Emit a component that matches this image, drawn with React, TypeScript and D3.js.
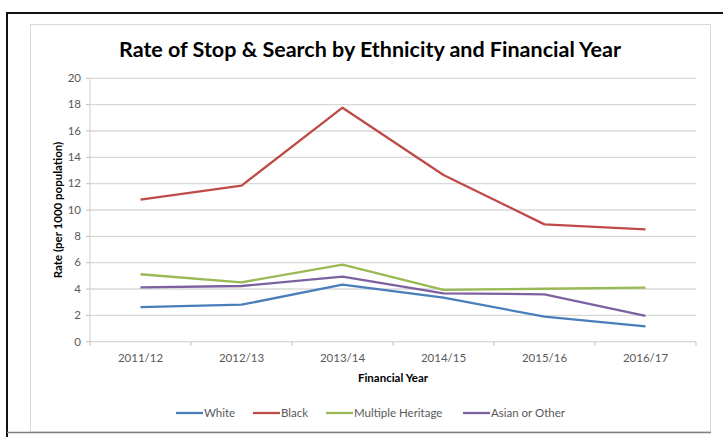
import React from "react";
import * as d3 from "d3";

const categories = ["2011/12", "2012/13", "2013/14", "2014/15", "2015/16", "2016/17"];
const seriesNames = ["White", "Black", "Multiple Heritage", "Asian or Other"];
const white = [2.63, 2.81, 4.33, 3.34, 1.9, 1.17];
const black = [10.78, 11.85, 17.77, 12.66, 8.91, 8.53];
const multipleHeritage = [5.12, 4.51, 5.85, 3.93, 4.02, 4.1];
const asianOrOther = [4.13, 4.23, 4.94, 3.67, 3.6, 1.97];
const yTicks = [0, 2, 4, 6, 8, 10, 12, 14, 16, 18, 20];
const colors = ["#4A7EBB", "#BE4B48", "#98B954", "#7D60A0"];

const W = 723;
const H = 437;
const plot = { left: 90, right: 696, top: 78.3, bottom: 341.7 };
const FONT = "Lato, 'Open Sans', sans-serif";

export default function App() {
  const x = d3.scaleBand<string>().domain(categories).range([plot.left, plot.right]).padding(0);
  const y = d3.scaleLinear().domain([0, 20]).range([plot.bottom, plot.top]);
  const data = [white, black, multipleHeritage, asianOrOther];
  const line = d3
    .line<number>()
    .x((_, i) => (x(categories[i]) as number) + x.bandwidth() / 2)
    .y((d) => y(d));

  const legendItems = [
    { lx: 176, tx: 204 },
    { lx: 253, tx: 281 },
    { lx: 326, tx: 354 },
    { lx: 463, tx: 491 },
  ];

  const boundaries = [...categories.map((c) => x(c) as number), plot.right];

  return (
    <svg
      width={W}
      height={H}
      style={{ position: "absolute", left: 0, top: 0, background: "#fff" }}
      fontFamily={FONT}
    >
      <rect x={0} y={0} width={W} height={H} fill="#fff" />
      {/* outer black frame */}
      <line x1={6} x2={723} y1={13} y2={13} stroke="#111" strokeWidth={2} />
      <line x1={7} x2={7} y1={12} y2={437} stroke="#111" strokeWidth={2} />
      {/* inner chart frame */}
      <rect x={30.5} y={24.5} width={680} height={407.5} fill="#fff" stroke="#d9d9d9" strokeWidth={1} />
      <line x1={7} x2={711} y1={432.5} y2={432.5} stroke="#7f7f7f" strokeWidth={1.5} />

      <text
        x={370}
        y={57}
        textAnchor="middle"
        fontSize={21.5}
        fontWeight="bold"
        fill="#000"
      >
        Rate of Stop &amp; Search by Ethnicity and Financial Year
      </text>

      {/* gridlines */}
      {yTicks.map((t) => (
        <line
          key={"g" + t}
          x1={plot.left}
          x2={plot.right}
          y1={y(t)}
          y2={y(t)}
          stroke="#d9d9d9"
          strokeWidth={1.3}
        />
      ))}
      {/* y axis */}
      <line x1={plot.left} x2={plot.left} y1={plot.top} y2={plot.bottom} stroke="#d9d9d9" strokeWidth={1.3} />
      {yTicks.map((t) => (
        <g key={"yt" + t}>
          <line x1={plot.left - 4} x2={plot.left} y1={y(t)} y2={y(t)} stroke="#bfbfbf" strokeWidth={1} />
          <text x={81} y={y(t) + 3.8} textAnchor="end" fontSize={11.5} fill="#595959">
            {t}
          </text>
        </g>
      ))}
      {/* x axis */}
      <line x1={plot.left} x2={plot.right} y1={plot.bottom} y2={plot.bottom} stroke="#d9d9d9" strokeWidth={1.3} />
      {boundaries.map((b, i) => (
        <line key={"xt" + i} x1={b} x2={b} y1={plot.bottom} y2={plot.bottom + 4} stroke="#bfbfbf" strokeWidth={1} />
      ))}
      {categories.map((c) => (
        <text
          key={"xl" + c}
          x={(x(c) as number) + x.bandwidth() / 2}
          y={362}
          textAnchor="middle"
          fontSize={11.5}
          fill="#595959"
        >
          {c}
        </text>
      ))}
      <text x={(plot.left + plot.right) / 2} y={382} textAnchor="middle" fontSize={11.5} fontWeight="bold" fill="#000">
        Financial Year
      </text>
      <text
        transform={`translate(61.5, ${(plot.top + plot.bottom) / 2}) rotate(-90)`}
        textAnchor="middle"
        fontSize={11.5}
        fontWeight="bold"
        fill="#000"
      >
        Rate (per 1000 population)
      </text>

      {/* series */}
      {data.map((d, i) => (
        <path
          key={"s" + i}
          d={line(d) as string}
          fill="none"
          stroke={colors[i]}
          strokeWidth={2.3}
          strokeLinejoin="round"
        />
      ))}

      {/* legend */}
      {seriesNames.map((n, i) => (
        <g key={"lg" + n}>
          <line
            x1={legendItems[i].lx}
            x2={legendItems[i].lx + 27}
            y1={413}
            y2={413}
            stroke={colors[i]}
            strokeWidth={2.3}
          />
          <text x={legendItems[i].tx} y={417} fontSize={11.5} fill="#595959">
            {n}
          </text>
        </g>
      ))}
    </svg>
  );
}
